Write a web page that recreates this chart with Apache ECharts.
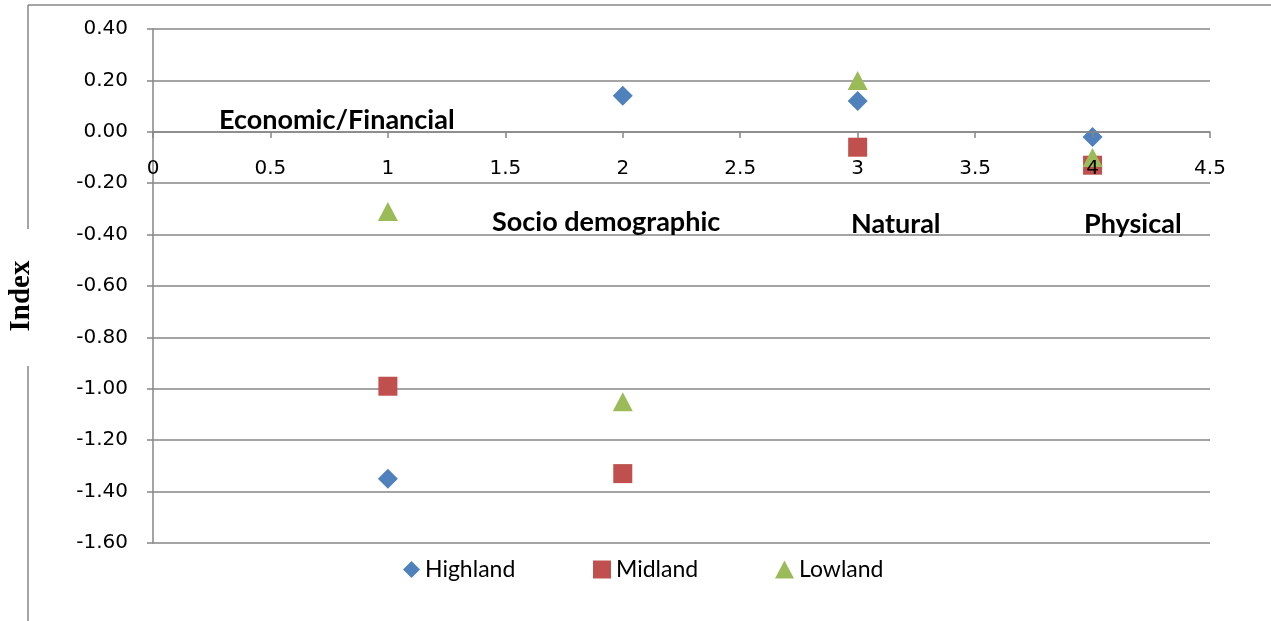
<!DOCTYPE html>
<html>
<head>
<meta charset="utf-8">
<script src="https://cdn.jsdelivr.net/npm/echarts@6/dist/echarts.min.js"></script>
<style>html,body{margin:0;padding:0;background:#fff;}#c{width:1271px;height:621px;}</style>
</head>
<body>
<div id="c"></div>
<script>
const xValues = [1, 2, 3, 4];
const highland = [-1.35, 0.14, 0.12, -0.02];
const midland = [-0.99, -1.33, -0.06, -0.13];
const lowland = [-0.31, -1.05, 0.20, -0.10];
const seriesNames = ['Highland', 'Midland', 'Lowland'];
const categoryLabels = ['Economic/Financial', 'Socio demographic', 'Natural', 'Physical'];
const yAxisTitle = 'Index';

const chart = echarts.init(document.getElementById('c'));
const tickFont = { fontFamily: 'DejaVu Sans', fontSize: 20, color: '#000' };
const legendText = { fontFamily: 'Lato', fontSize: 23, color: '#000' };
const pair = (ys) => xValues.map((x, i) => [x, ys[i]]);
const bold = { fontFamily: 'Lato', fontWeight: 'bold', fontSize: 27, fill: '#000' };
const labelPos = [[219, 120], [492, 222], [851, 224], [1084, 224]];

chart.setOption({
  animation: false,
  backgroundColor: '#fff',
  grid: { left: 153, right: 61, top: 29, bottom: 78 },
  xAxis: {
    type: 'value', min: 0, max: 4.5, interval: 0.5, z: 5,
    position: 'bottom', offset: -411,
    axisLine: { onZero: false, lineStyle: { color: '#868686', width: 1.5 } },
    axisTick: { show: true, length: 6, lineStyle: { color: '#868686', width: 1.5 } },
    splitLine: { show: false },
    axisLabel: Object.assign({ margin: 27 }, tickFont)
  },
  yAxis: {
    type: 'value', min: -1.6, max: 0.4, interval: 0.2,
    axisLine: { show: true, lineStyle: { color: '#868686', width: 1.5 } },
    axisTick: { show: true, length: 6, lineStyle: { color: '#868686', width: 1.5 } },
    splitLine: { show: true, lineStyle: { color: '#868686', width: 1.5 } },
    axisLabel: Object.assign({ margin: 25, formatter: v => v.toFixed(2) }, tickFont)
  },
  legend: [
    { data: [seriesNames[0]], left: 398, top: 553, itemWidth: 17, itemHeight: 17, textStyle: legendText },
    { data: [seriesNames[1]], left: 588, top: 553, itemWidth: 18, itemHeight: 18, textStyle: legendText },
    { data: [seriesNames[2]], left: 770, top: 553, itemWidth: 19, itemHeight: 18, textStyle: legendText }
  ],
  series: [
    { name: seriesNames[0], type: 'scatter', symbol: 'diamond', symbolSize: [20, 20], itemStyle: { color: '#4F81BD', opacity: 1 }, data: pair(highland) },
    { name: seriesNames[1], type: 'scatter', symbol: 'rect', symbolSize: [19, 19], itemStyle: { color: '#C0504D', opacity: 1 }, data: pair(midland) },
    { name: seriesNames[2], type: 'scatter', symbol: 'triangle', symbolSize: [20, 19], itemStyle: { color: '#9BBB59', opacity: 1 }, data: pair(lowland) }
  ],
  graphic: [
    { type: 'polyline', shape: { points: [[28, 5], [1271, 5]] }, style: { stroke: '#868686', lineWidth: 1.5, fill: null } },
    { type: 'polyline', shape: { points: [[28, 5], [28, 229]] }, style: { stroke: '#868686', lineWidth: 1.5, fill: null } },
    { type: 'polyline', shape: { points: [[28, 366], [28, 621]] }, style: { stroke: '#868686', lineWidth: 1.5, fill: null } },
    { type: 'text', x: 22, y: 296, rotation: Math.PI / 2,
      style: { text: yAxisTitle, fontFamily: 'Liberation Serif', fontWeight: 'bold', fontSize: 29, fill: '#000', align: 'center', verticalAlign: 'middle' } }
  ].concat(categoryLabels.map((t, i) => ({
    type: 'text', x: labelPos[i][0], y: labelPos[i][1], z: 10,
    style: Object.assign({ text: t, align: 'left', verticalAlign: 'middle' }, bold)
  })))
});
</script>
</body>
</html>
